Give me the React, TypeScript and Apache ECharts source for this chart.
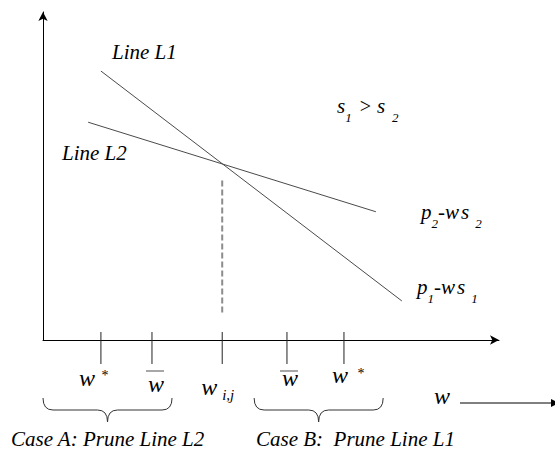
import { useEffect, useRef } from "react";
import * as echarts from "echarts";

// Two price lines p - w*s, given by their end points (w, value)
const lineL1 = [
  [1.27, 8.2],
  [7.87, 1.19],
];
const lineL2 = [
  [0.99, 6.64],
  [7.3, 3.91],
];
// Vertical guide dropped from the crossing point w_{i,j}
const crossingGuide = [
  [3.93, 4.86],
  [3.93, 0.8],
];
// Marked positions on the w axis
const tickValues = [1.27, 2.39, 3.93, 5.35, 6.6];
const tickKinds = ["star", "bar", "sub", "bar", "star"];
// Ranges covered by the two case braces
const braceSpans = [
  [0, 2.83],
  [4.63, 7.46],
];
const caseLabels = ["Case A: Prune Line L2", "Case B:  Prune Line L1"];

// Label placement around each axis mark (pixels relative to the mark)
const tickLabelLayout = [
  { w: [-14, 38], mark: [4, 35] },
  { w: [4, 44], mark: [3, 31] },
  { w: [-13, 47], mark: [6, 55] },
  { w: [3, 38], mark: [2, 31] },
  { w: [-4, 35], mark: [17, 33] },
];

const INK = "#000";
const serifItalic = (size: number) => `italic ${size}px 'Liberation Serif'`;
const serifUpright = (size: number) => `${size}px 'Liberation Serif'`;

function textEl(text: string, x: number, y: number, font: string, align = "left") {
  return {
    type: "text",
    x,
    y,
    silent: true,
    style: { text, font, fill: INK, align, verticalAlign: "middle" },
  };
}

function richEl(text: string, x: number, y: number, rich: Record<string, unknown>) {
  return {
    type: "text",
    x,
    y,
    silent: true,
    style: { text, fill: INK, align: "left", verticalAlign: "middle", rich },
  };
}

export default function App() {
  const ref = useRef<HTMLDivElement>(null);

  useEffect(() => {
    if (!ref.current) return;
    const chart = echarts.init(ref.current, undefined, { renderer: "svg" });

    const main = (size: number, padLeft = 0) => ({
      font: serifItalic(size),
      fill: INK,
      padding: [0, 0, 0, padLeft],
    });
    // subscripts sit lower: top padding pushes the glyph down by half its amount
    const sub = (size: number, drop: number, padLeft = 0) => ({
      font: serifItalic(size),
      fill: INK,
      padding: [drop, 0, 0, padLeft],
    });

    const axisCommon = {
      type: "value",
      min: 0,
      max: 10,
      axisLine: {
        show: true,
        onZero: false,
        symbol: ["none", "arrow"],
        symbolSize: [7, 9],
        lineStyle: { color: "#000", width: 1 },
      },
      axisTick: { show: false },
      axisLabel: { show: false },
      splitLine: { show: false },
    };

    const option: any = {
      animation: false,
      backgroundColor: "#fff",
      grid: { left: 43, right: 56, top: 12, bottom: 110, containLabel: false },
      xAxis: axisCommon,
      yAxis: axisCommon,
      series: [
        {
          name: "L1",
          type: "line",
          data: lineL1,
          symbol: "none",
          lineStyle: { color: "#4a4a4a", width: 1 },
          silent: true,
        },
        {
          name: "L2",
          type: "line",
          data: lineL2,
          symbol: "none",
          lineStyle: { color: "#4a4a4a", width: 1 },
          silent: true,
        },
        {
          name: "guide",
          type: "line",
          data: crossingGuide,
          symbol: "none",
          lineStyle: { color: "#8c8c8c", width: 2, type: [6, 3] },
          silent: true,
        },
        {
          name: "marks",
          type: "custom",
          clip: false,
          silent: true,
          data: tickValues.map((v) => [v, 0]),
          encode: { x: 0, y: 1 },
          renderItem: (params: any, api: any) => {
            const i = params.dataIndex;
            const [px, py] = api.coord([api.value(0), 0]);
            const lay = tickLabelLayout[i];
            const kind = tickKinds[i];
            const children: any[] = [
              {
                type: "line",
                shape: { x1: px, y1: py - 8, x2: px, y2: py + 24 },
                style: { stroke: "#222", lineWidth: 1 },
              },
              textEl("w", px + lay.w[0], py + lay.w[1], serifItalic(24), "center"),
            ];
            if (kind === "star") {
              children.push(textEl("*", px + lay.mark[0], py + lay.mark[1], serifUpright(14), "center"));
            } else if (kind === "bar") {
              const bx = px + lay.mark[0];
              const by = py + lay.mark[1];
              children.push({
                type: "line",
                shape: { x1: bx - 9, y1: by, x2: bx + 9, y2: by },
                style: { stroke: "#8a8a8a", lineWidth: 1.5 },
              });
            } else {
              children.push(textEl("i,j", px + lay.mark[0], py + lay.mark[1], serifItalic(15), "center"));
            }
            return { type: "group", children };
          },
        },
        {
          name: "braces",
          type: "custom",
          clip: false,
          silent: true,
          data: braceSpans,
          encode: { x: [0, 1] },
          renderItem: (_params: any, api: any) => {
            const [xl, axisY] = api.coord([api.value(0), 0]);
            const [xr] = api.coord([api.value(1), 0]);
            const top = axisY + 58;
            const mid = top + 12;
            const tip = top + 24;
            const m = (xl + xr) / 2;
            const r = 10;
            const d =
              `M${xl},${top} Q${xl},${mid} ${xl + r},${mid} L${m - r},${mid} ` +
              `Q${m},${mid} ${m},${tip} Q${m},${mid} ${m + r},${mid} ` +
              `L${xr - r},${mid} Q${xr},${mid} ${xr},${top}`;
            return {
              type: "path",
              shape: { pathData: d },
              style: { stroke: "#333", lineWidth: 1, fill: "none" },
            };
          },
        },
      ],
      graphic: [
        textEl("Line L1", 112, 52, serifItalic(21)),
        textEl("Line L2", 62, 153, serifItalic(21)),
        richEl("{m|s}{s|1}{g|>}{m|s}{t|2}", 337, 106, {
          m: main(21),
          s: sub(13, 22),
          t: sub(13, 22, 7),
          g: { font: serifUpright(20), fill: INK, padding: [0, 6, 0, 8] },
        }),
        richEl("{m|p}{s|2}{m|-w}{n|s}{t|2}", 421, 212, {
          m: main(21),
          n: main(21, 2),
          s: sub(13, 22),
          t: sub(13, 22, 6),
        }),
        richEl("{m|p}{s|1}{m|-w}{n|s}{t|1}", 417, 287, {
          m: main(21),
          n: main(21, 2),
          s: sub(13, 22),
          t: sub(13, 22, 6),
        }),
        textEl(caseLabels[0], 11, 439, serifItalic(21)),
        textEl(caseLabels[1], 256, 439, serifItalic(21)),
        textEl("w", 434, 396, serifItalic(24)),
        {
          type: "line",
          silent: true,
          shape: { x1: 460, y1: 403, x2: 552, y2: 403 },
          style: { stroke: "#000", lineWidth: 1 },
        },
        {
          type: "polygon",
          silent: true,
          shape: { points: [[551, 399], [551, 407], [559, 403]] },
          style: { fill: "#000" },
        },
      ],
    };

    chart.setOption(option);
    return () => chart.dispose();
  }, []);

  return (
    <div
      ref={ref}
      style={{ position: "fixed", left: 0, top: 0, width: 555, height: 450, background: "#fff" }}
    />
  );
}
